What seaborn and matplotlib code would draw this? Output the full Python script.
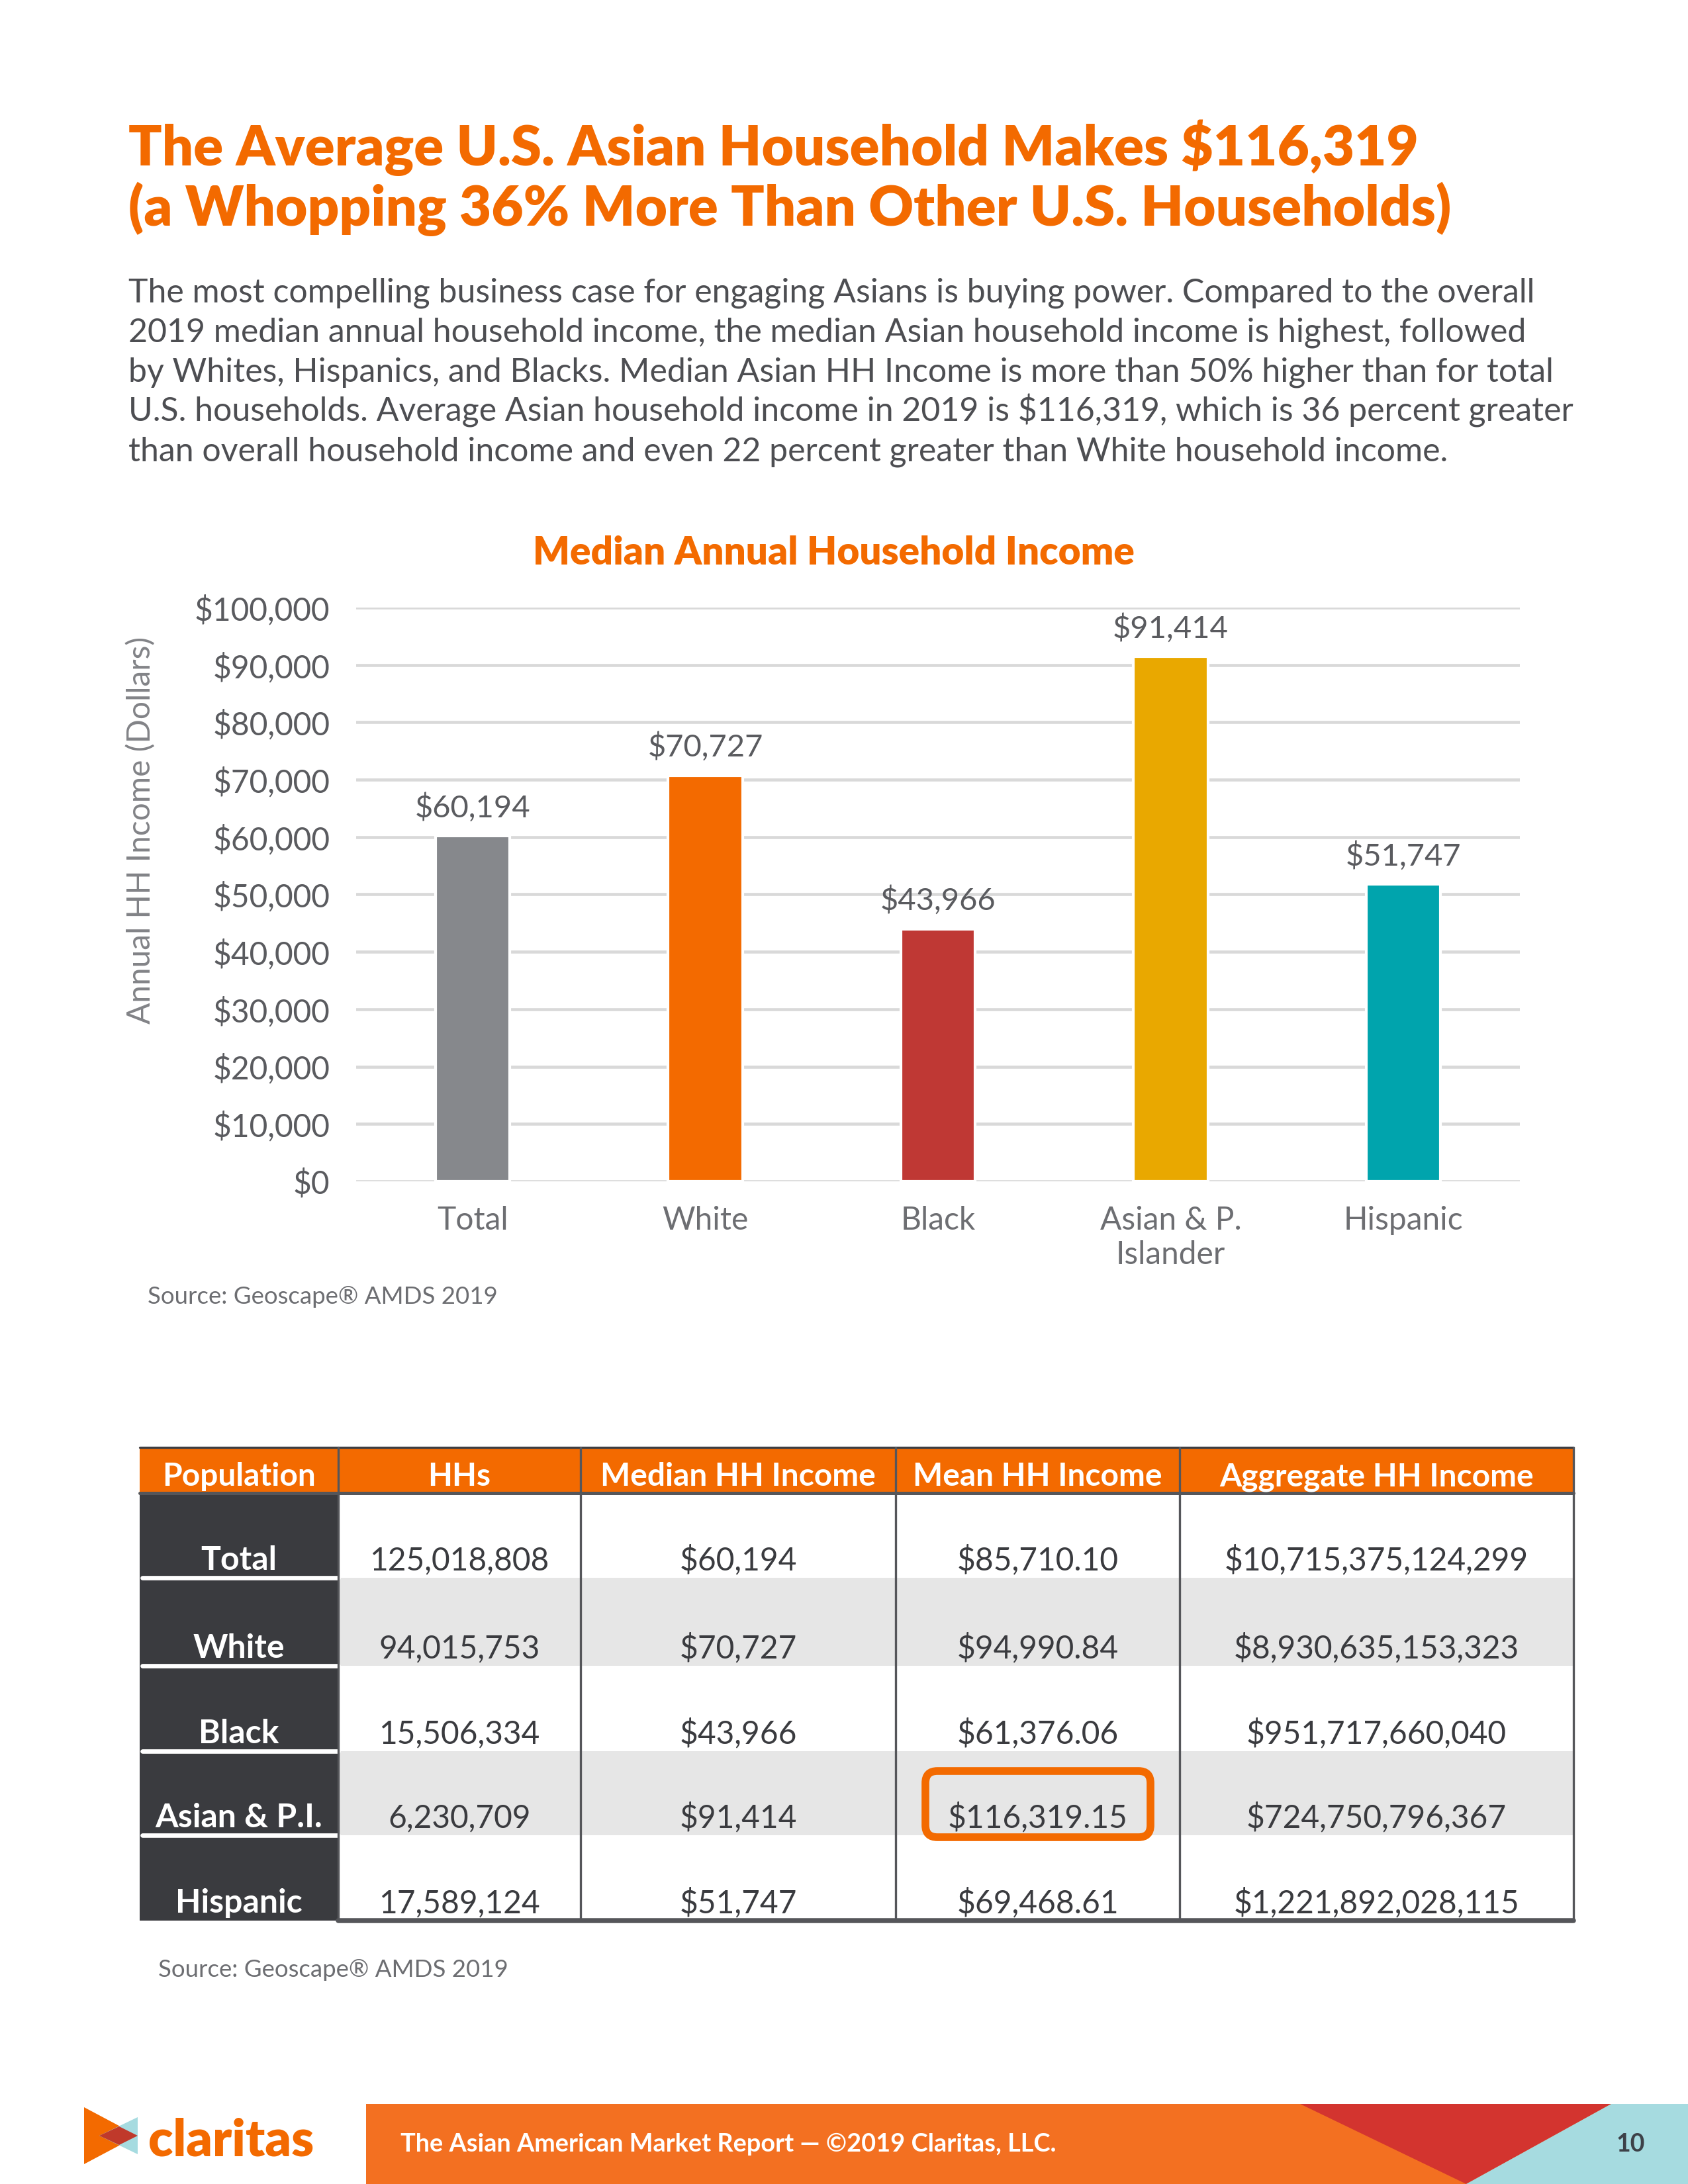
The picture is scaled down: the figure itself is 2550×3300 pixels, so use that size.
import numpy as np
import pandas as pd
import matplotlib.pyplot as plt
import seaborn as sns
from matplotlib.patches import Rectangle, Polygon, FancyBboxPatch

# chart data
groups = ["Total", "White", "Black", "Asian & P.\nIslander", "Hispanic"]
median_income = [60194, 70727, 43966, 91414, 51747]
bar_colors = ["#86888c", "#f36a00", "#bf3834", "#e9a800", "#00a4ad"]
y_ticks = list(range(0, 100001, 10000))

# table data
table_header = ["Population", "HHs", "Median HH Income", "Mean HH Income", "Aggregate HH Income"]
table_pops = ["Total", "White", "Black", "Asian & P.I.", "Hispanic"]
table_hhs = ["125,018,808", "94,015,753", "15,506,334", "6,230,709", "17,589,124"]
table_median = ["$60,194", "$70,727", "$43,966", "$91,414", "$51,747"]
table_mean = ["$85,710.10", "$94,990.84", "$61,376.06", "$116,319.15", "$69,468.61"]
table_aggregate = ["$10,715,375,124,299", "$8,930,635,153,323", "$951,717,660,040",
                   "$724,750,796,367", "$1,221,892,028,115"]

ORANGE = "#f36a00"
TEXT_GRAY = "#4d4e52"
DARK = "#3a3b3f"

sns.set_theme(style="white")
plt.rcParams["font.family"] = ["Lato", "DejaVu Sans"]

W, H = 2550, 3300
fig = plt.figure(figsize=(8.5, 11), dpi=300)

# full page axes in pixel coordinates (y down)
page = fig.add_axes([0, 0, 1, 1])
page.set_xlim(0, W)
page.set_ylim(H, 0)
page.axis("off")

# headline
page.text(194, 250, "The Average U.S. Asian Household Makes $116,319",
          fontsize=20, fontweight="heavy", color=ORANGE, va="baseline")
page.text(194, 341, "(a Whopping 36% More Than Other U.S. Households)",
          fontsize=20, fontweight="heavy", color=ORANGE, va="baseline")

body = [
    "The most compelling business case for engaging Asians is buying power. Compared to the overall",
    "2019 median annual household income, the median Asian household income is highest, followed",
    "by Whites, Hispanics, and Blacks. Median Asian HH Income is more than 50% higher than for total",
    "U.S. households. Average Asian household income in 2019 is $116,319, which is 36 percent greater",
    "than overall household income and even 22 percent greater than White household income.",
]
for i, line in enumerate(body):
    page.text(194, 457 + i * 60, line, fontsize=12, color=TEXT_GRAY, va="baseline")

# bar chart
page.text(1259, 853, "Median Annual Household Income", fontsize=14, fontweight="heavy",
          color=ORANGE, ha="center", va="baseline")

ax = fig.add_axes([538 / W, 1 - 1785 / H, (2296 - 538) / W, (1785 - 918) / H])
ax.set_facecolor("none")
df = pd.DataFrame({"group": groups, "income": median_income})
sns.barplot(data=df, x="group", y="income", hue="group", palette=bar_colors,
            saturation=1, width=0.32, legend=False, ax=ax)
ax.set_ylim(0, 100000)
ax.set_xlim(-0.5, 4.5)
ax.set_yticks(y_ticks)
ax.set_yticklabels([f"${v:,}" for v in y_ticks])
ax.yaxis.grid(True, color="#d9d9d9", lw=1.1)
ax.set_axisbelow(True)
for s in ax.spines.values():
    s.set_visible(False)
ax.tick_params(axis="y", length=0, pad=9.5, labelsize=11.5, labelcolor="#5a5b5f")
ax.tick_params(axis="x", length=0, pad=9, labelsize=11.5, labelcolor="#6d6e72")
ax.set_xlabel("")
ax.set_ylabel("")
for c in ax.containers:
    ax.bar_label(c, fmt="${:,.0f}", padding=5, fontsize=11.3, color="#5a5b5f")

page.text(213, 1254, "Annual HH Income (Dollars)", rotation=90, fontsize=11.5,
          color="#828387", ha="center", va="center")
page.text(223, 1970, "Source: Geoscape\u00ae AMDS 2019", fontsize=8.8, color="#6d6e72", va="baseline")

# table
col_x = [211, 511, 877, 1353, 1782, 2377]
row_y = [2187, 2256, 2384, 2517, 2646, 2773, 2902]
columns = [table_pops, table_hhs, table_median, table_mean, table_aggregate]

page.add_patch(Rectangle((col_x[0], row_y[0]), col_x[-1] - col_x[0], row_y[1] - row_y[0],
                         facecolor=ORANGE, edgecolor="none"))
for r in range(len(table_pops)):
    y0, y1 = row_y[r + 1], row_y[r + 2]
    shade = "#e6e6e6" if r % 2 == 1 else "white"
    page.add_patch(Rectangle((col_x[1], y0), col_x[-1] - col_x[1], y1 - y0,
                             facecolor=shade, edgecolor="none"))
    page.add_patch(Rectangle((col_x[0], y0), col_x[1] - col_x[0], y1 - y0,
                             facecolor=DARK, edgecolor="none"))
    if r < len(table_pops) - 1:
        page.plot([col_x[0] + 4, col_x[1]], [y1, y1], color="white", lw=1.6)

for j, name in enumerate(table_header):
    cx = (col_x[j] + col_x[j + 1]) / 2
    page.text(cx, row_y[1] - 11, name, fontsize=11.5, fontweight="bold", color="white",
              ha="center", va="baseline")
    for r, val in enumerate(columns[j]):
        if j == 0:
            page.text(cx, row_y[r + 2] - 12, val, fontsize=12, fontweight="bold", color="white",
                      ha="center", va="baseline")
        else:
            page.text(cx, row_y[r + 2] - 12, val, fontsize=11.5, color=DARK,
                      ha="center", va="baseline")

# table lines
page.plot([col_x[0], col_x[-1]], [row_y[0], row_y[0]], color="#3d3e42", lw=0.8)
page.plot([col_x[0], col_x[-1]], [row_y[1], row_y[1]], color="#55565a", lw=1.2)
page.plot([col_x[1], col_x[-1]], [row_y[-1], row_y[-1]], color="#55565a", lw=1.8)
for x in col_x[1:]:
    page.plot([x, x], [row_y[0], row_y[-1]], color="#55565a", lw=0.8)

# highlight on Asian mean income
page.add_patch(FancyBboxPatch((1398, 2676), 340, 100, boxstyle="round,pad=0,rounding_size=18",
                              facecolor="none", edgecolor=ORANGE, lw=2.8))

page.text(239, 2987, "Source: Geoscape\u00ae AMDS 2019", fontsize=8.8, color="#6d6e72", va="baseline")

# footer
page.add_patch(Rectangle((553, 3179), W - 553, H - 3179, facecolor="#f37021", edgecolor="none"))
page.add_patch(Polygon([(1964, 3179), (2434, 3179), (2215, H)], facecolor="#d3342f", edgecolor="none"))
page.add_patch(Polygon([(2434, 3179), (W, 3179), (W, H), (2215, H)], facecolor="#a6dbe0", edgecolor="none"))
page.text(605, 3240, "The Asian American Market Report \u2014 \u00a92019 Claritas, LLC.",
          fontsize=9.1, fontweight="bold", color="white", va="center")
page.text(2463, 3240, "10", fontsize=9, fontweight="bold", color="#3d4148", ha="center", va="center")

# logo
page.add_patch(Polygon([(127, 3184), (127, 3270), (208, 3227)], facecolor="#f36a00", edgecolor="none"))
page.add_patch(Polygon([(208, 3199), (208, 3255), (150, 3227)], facecolor="#a6dbe0", edgecolor="none"))
page.add_patch(Polygon([(150, 3227), (180, 3213), (208, 3227), (180, 3241)], facecolor="#c0392b", edgecolor="none"))
page.text(224, 3257, "claritas", fontsize=18.4, fontweight="heavy", color="#f36a00", va="baseline")

fig.savefig("out.png", dpi=300)
